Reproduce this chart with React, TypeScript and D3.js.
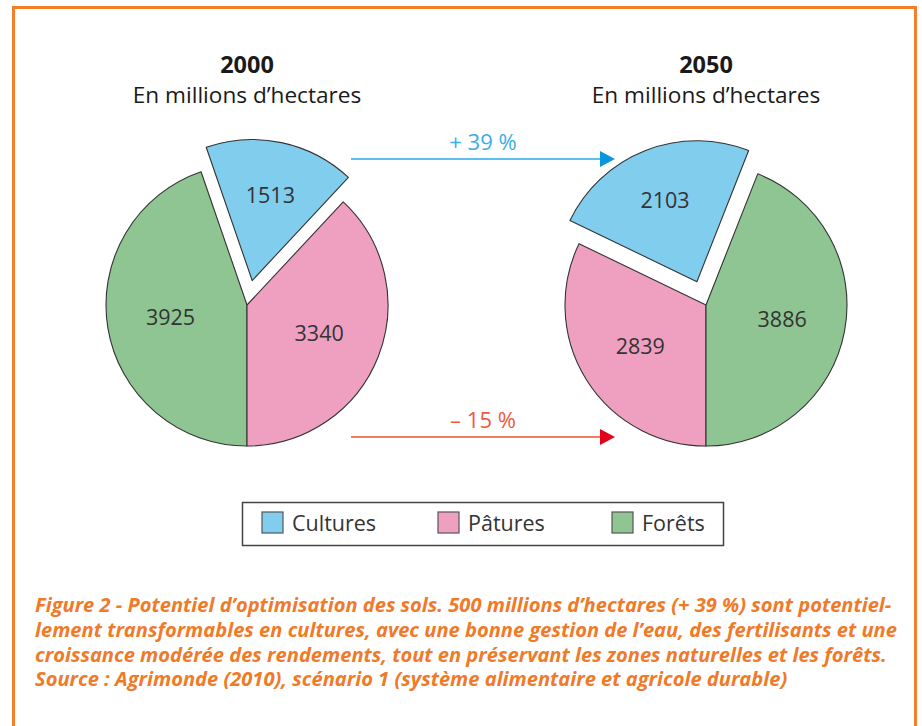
import * as d3 from 'd3'

// land use, millions of hectares
const categories = ['Cultures', 'Pâtures', 'Forêts']
const colors = ['#80cdee', '#efa0c0', '#8ec592']
const values2000 = [1513, 3340, 3925]
const values2050 = [2103, 2839, 3886]
// clockwise slice order, starting from the bottom of each pie
const order2000 = [2, 0, 1]
const order2050 = [1, 0, 2]
const years = ['2000', '2050']
const subtitle = 'En millions d\u2019hectares'
const changeLabels = ['+ 39 %', '\u2013 15 %']
const captionLines = [
  'Figure 2 - Potentiel d\u2019optimisation des sols. 500 millions d\u2019hectares (+ 39 %) sont potentiel-',
  'lement transformables en cultures, avec une bonne gestion de l\u2019eau, des fertilisants et une',
  'croissance modérée des rendements, tout en préservant les zones naturelles et les forêts.',
  'Source : Agrimonde (2010), scénario 1 (système alimentaire et agricole durable)',
]

const W = 922
const H = 726
const R = 141
const EXPLODE = 25
const FONT = '"Open Sans", "Noto Sans", sans-serif'

const pies = [
  { year: years[0], values: values2000, order: order2000, cx: 247, cy: 305 },
  { year: years[1], values: values2050, order: order2050, cx: 706, cy: 305 },
]

function Pie({ values, order, cx, cy, year }: { values: number[]; order: number[]; cx: number; cy: number; year: string }) {
  const pie = d3.pie<number>().sort(null).value(i => values[i]).startAngle(Math.PI).endAngle(3 * Math.PI)
  const arc = d3.arc<d3.PieArcDatum<number>>().innerRadius(0).outerRadius(R)
  const labelArc = d3.arc<d3.PieArcDatum<number>>().innerRadius(R * 0.55).outerRadius(R * 0.55)
  const cutArc = d3.arc<d3.PieArcDatum<number>>().innerRadius(R * 0.62).outerRadius(R * 0.62)
  const slices = pie(order)
  return (
    <g>
      <text x={cx} y={73} textAnchor="middle" fontFamily={FONT} fontWeight={700} fontSize={23.5} fill="#1a1a1a">{year}</text>
      <text x={cx} y={103} textAnchor="middle" fontFamily={FONT} fontSize={22.6} fill="#1a1a1a">{subtitle}</text>
      {slices.map(s => {
        const mid = (s.startAngle + s.endAngle) / 2
        const exploded = s.data === 0
        const off = exploded ? EXPLODE : 0
        const dx = Math.sin(mid) * off
        const dy = -Math.cos(mid) * off
        const [lx, ly] = (exploded ? cutArc : labelArc).centroid(s)
        return (
          <g key={s.data} transform={`translate(${cx + dx},${cy + dy})`}>
            <path d={arc(s) ?? ''} fill={colors[s.data]} stroke="#333" strokeWidth={1.1} strokeLinejoin="round" />
            <text x={lx} y={ly} dy="0.35em" textAnchor="middle" fontFamily={FONT} fontSize={21.5} fill="#333">
              {values[s.data]}
            </text>
          </g>
        )
      })}
    </g>
  )
}

function Arrow({ x0, x1, y, lineColor, headColor, textColor, label }: { x0: number; x1: number; y: number; lineColor: string; headColor: string; textColor: string; label: string }) {
  return (
    <g>
      <line x1={x0} x2={x1 - 14} y1={y} y2={y} stroke={lineColor} strokeWidth={2} />
      <path d={`M${x1 - 15},${y - 8}L${x1},${y}L${x1 - 15},${y + 8}Z`} fill={headColor} />
      <text x={(x0 + x1) / 2} y={y - 9} textAnchor="middle" fontFamily={FONT} fontSize={22} fill={textColor}>{label}</text>
    </g>
  )
}

export default function App() {
  const legendX = [262, 438, 612]
  return (
    <div style={{ position: 'absolute', left: 0, top: 0, width: W, height: H, background: '#fff' }}>
      <svg width={W} height={H} style={{ display: 'block' }}>
        <rect width={W} height={H} fill="#fff" />
        <path d={`M13.5,${H + 5}V7.5H915.5V${H + 5}`} fill="none" stroke="#f47f2a" strokeWidth={3} />

        {pies.map(p => <Pie key={p.year} {...p} />)}

        <Arrow x0={351} x1={615} y={159} lineColor="#5cbfee" headColor="#0a96dc" textColor="#3aaee6" label={changeLabels[0]} />
        <Arrow x0={351} x1={615} y={437} lineColor="#f07a62" headColor="#e2001a" textColor="#ee5a40" label={changeLabels[1]} />

        <rect x={242.5} y={502.5} width={481} height={43} fill="#fff" stroke="#444" strokeWidth={1.5} />
        {categories.map((c, i) => (
          <g key={c}>
            <rect x={legendX[i]} y={512} width={21} height={21} fill={colors[i]} stroke="#555" strokeWidth={1.2} />
            <text x={legendX[i] + 30} y={531} fontFamily={FONT} fontSize={21.5} fill="#333">{c}</text>
          </g>
        ))}

        {captionLines.map((line, i) => (
          <text key={i} x={35} y={612 + i * 24.8} fontFamily={FONT} fontStyle="italic" fontWeight={700} fontSize={20.1} fill="#f07a28">
            {line}
          </text>
        ))}
      </svg>
    </div>
  )
}
